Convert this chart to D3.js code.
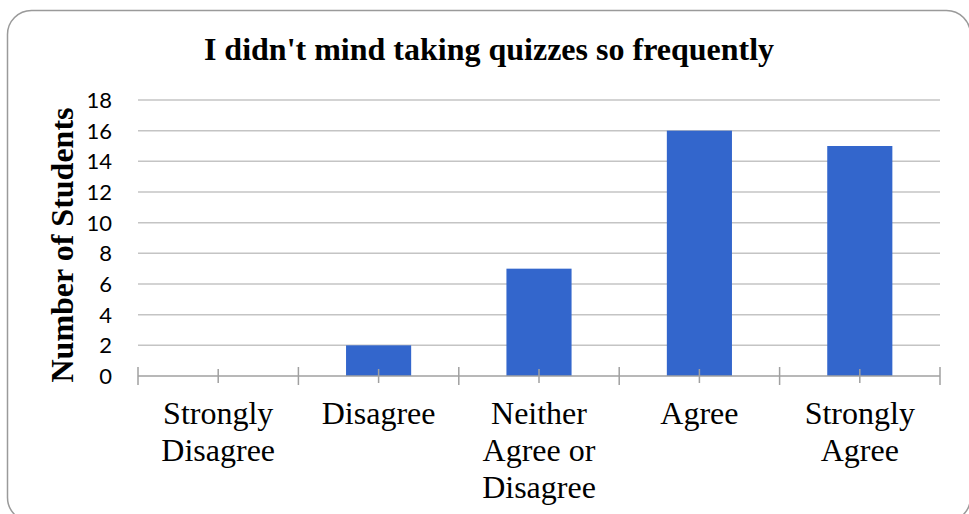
<!DOCTYPE html>
<html>
<head>
<meta charset="utf-8">
<script src="https://cdn.jsdelivr.net/npm/d3@7"></script>
<style>
  html, body { margin: 0; padding: 0; background: #fff; }
  svg { display: block; }
</style>
</head>
<body>
<svg width="969" height="514"></svg>
<script>
// data
const categories = ["Strongly Disagree", "Disagree", "Neither Agree or Disagree", "Agree", "Strongly Agree"];
const categoryLines = [["Strongly", "Disagree"], ["Disagree"], ["Neither", "Agree or", "Disagree"], ["Agree"], ["Strongly", "Agree"]];
const counts = [0, 2, 7, 16, 15];
const yTicks = [0, 2, 4, 6, 8, 10, 12, 14, 16, 18];

const svg = d3.select("svg");

// outer frame with rounded corners (runs off the right/bottom edge)
svg.append("rect")
   .attr("x", 7.5).attr("y", 10.5)
   .attr("width", 963).attr("height", 511)
   .attr("rx", 24).attr("ry", 24)
   .attr("fill", "#fff")
   .attr("stroke", "#9a9a9a")
   .attr("stroke-width", 1.5);

const plotL = 138, plotR = 940, plotT = 100, plotB = 376;

const x = d3.scaleBand()
            .domain(categories)
            .range([plotL, plotR])
            .paddingInner(0.594)
            .paddingOuter(0.297);

const band = d3.scaleBand().domain(categories).range([plotL, plotR]);

const y = d3.scaleLinear().domain([0, 18]).range([plotB, plotT]);

// gridlines
svg.append("g")
   .selectAll("line")
   .data(yTicks.filter(d => d > 0))
   .enter()
   .append("line")
   .attr("x1", plotL).attr("x2", plotR)
   .attr("y1", d => y(d)).attr("y2", d => y(d))
   .attr("stroke", "#c4c4c4")
   .attr("stroke-width", 1.5);

// y tick labels
svg.append("g")
   .selectAll("text")
   .data(yTicks)
   .enter()
   .append("text")
   .attr("x", 112)
   .attr("y", d => y(d))
   .attr("dy", "0.36em")
   .attr("text-anchor", "end")
   .style("font-family", "Lato, 'Open Sans', sans-serif")
   .style("font-size", "22px")
   .attr("fill", "#000")
   .text(d => d);

// bars
svg.append("g")
   .selectAll("rect")
   .data(counts)
   .enter()
   .append("rect")
   .attr("x", (d, i) => x(categories[i]))
   .attr("width", x.bandwidth())
   .attr("y", d => y(d))
   .attr("height", d => y(0) - y(d))
   .attr("fill", "#3366cc");

// x axis line + ticks
const axis = svg.append("g").attr("stroke", "#a0a0a0").attr("stroke-width", 1.5);
axis.append("line")
    .attr("x1", plotL).attr("x2", plotR)
    .attr("y1", plotB).attr("y2", plotB);

const bounds = categories.map(c => band(c)).concat([plotR]);
axis.selectAll(".major")
    .data(bounds)
    .enter()
    .append("line")
    .attr("x1", d => d).attr("x2", d => d)
    .attr("y1", plotB - 9).attr("y2", plotB + 9);

axis.selectAll(".minor")
    .data(categories)
    .enter()
    .append("line")
    .attr("x1", d => band(d) + band.bandwidth() / 2)
    .attr("x2", d => band(d) + band.bandwidth() / 2)
    .attr("y1", plotB - 7).attr("y2", plotB + 7);

// category labels
const catLabels = svg.append("g")
   .selectAll("text")
   .data(categories)
   .enter()
   .append("text")
   .attr("text-anchor", "middle")
   .style("font-family", "'Liberation Serif', 'Times New Roman', serif")
   .style("font-size", "32px")
   .attr("fill", "#000");

catLabels.each(function(d, i) {
    const t = d3.select(this);
    categoryLines[i].forEach((line, j) => {
        t.append("tspan")
         .attr("x", band(d) + band.bandwidth() / 2)
         .attr("y", 424 + j * 37)
         .text(line);
    });
});

// title
svg.append("text")
   .attr("x", 489)
   .attr("y", 60)
   .attr("text-anchor", "middle")
   .style("font-family", "'Liberation Serif', 'Times New Roman', serif")
   .style("font-weight", "bold")
   .style("font-size", "32px")
   .text("I didn't mind taking quizzes so frequently");

// y axis title
svg.append("text")
   .attr("transform", "translate(73,245) rotate(-90)")
   .attr("text-anchor", "middle")
   .style("font-family", "'Liberation Serif', 'Times New Roman', serif")
   .style("font-weight", "bold")
   .style("font-size", "32px")
   .text("Number of Students");
</script>
</body>
</html>
